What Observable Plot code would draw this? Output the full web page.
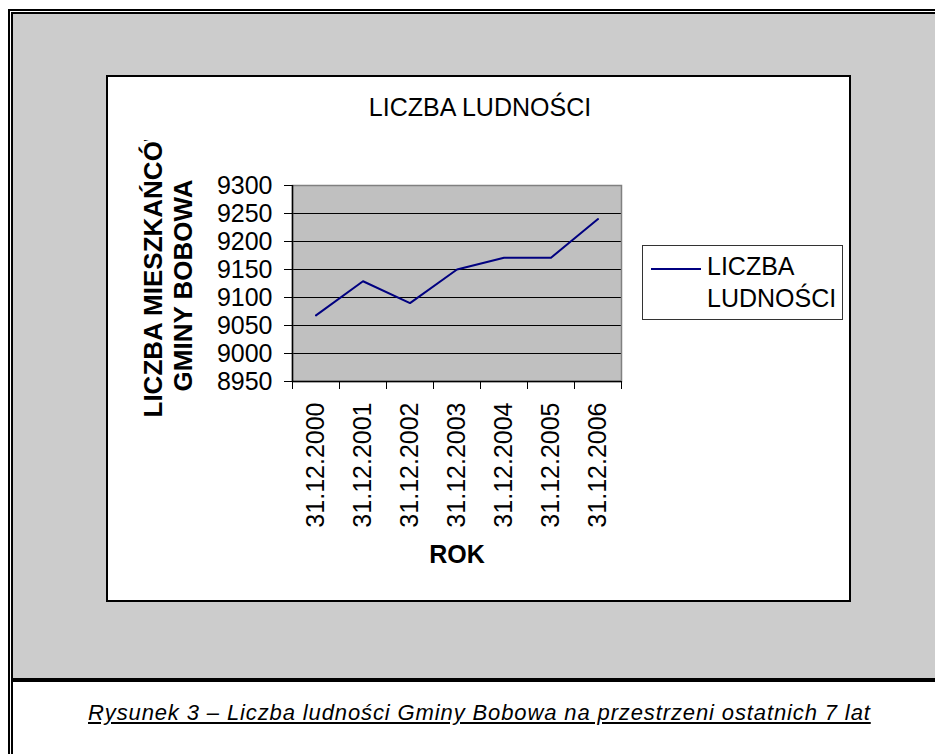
<!DOCTYPE html>
<html><head><meta charset="utf-8">
<script src="https://cdn.jsdelivr.net/npm/d3@7"></script>
<script src="https://cdn.jsdelivr.net/npm/@observablehq/plot@0.6"></script>
<style>
html,body{margin:0;padding:0;background:#fff;overflow:hidden;}
#page{position:relative;width:935px;height:754px;overflow:hidden;font-family:'Liberation Sans',Arial,sans-serif;color:#000;}
#frame{position:absolute;left:8px;top:9px;width:960px;height:780px;border-left:5px double #000;border-top:5px double #000;}
#gray{position:absolute;left:13px;top:14px;width:930px;height:664px;background:#cccccc;}
#rule{position:absolute;left:13px;top:678px;width:930px;height:4px;background:#000;}
#chartbox{position:absolute;left:106px;top:75px;width:745px;height:527px;box-sizing:border-box;border:2px solid #000;background:#fff;}
#chartbox svg{display:block;}
#legend{position:absolute;left:642px;top:245px;width:201px;height:75px;box-sizing:border-box;border:1px solid #333;background:#fff;}
#legend .swatch{position:absolute;left:8px;top:22px;width:50px;height:2px;background:#000080;}
#legend .ltext{position:absolute;left:64px;top:4px;width:135px;font-size:25px;line-height:32px;}
#caption{position:absolute;left:88px;top:700px;white-space:nowrap;font-size:22px;line-height:26px;font-style:italic;text-decoration:underline;letter-spacing:0.88px;}
</style></head><body>
<div id="page">
  <div id="frame"></div>
  <div id="gray"></div>
  <div id="rule"></div>
  <div id="chartbox"></div>
  <div id="legend"><div class="swatch"></div><div class="ltext"></div></div>
  <div id="caption"></div>
</div>
<script>
const categories = ["31.12.2000", "31.12.2001", "31.12.2002", "31.12.2003", "31.12.2004", "31.12.2005", "31.12.2006"];
const population = [9068, 9129, 9090, 9150, 9171, 9171, 9240];
const yTicks = [8950, 9000, 9050, 9100, 9150, 9200, 9250, 9300];
const chartTitle = "LICZBA LUDNOŚCI";
const seriesName = "LICZBA LUDNOŚCI";
const yTitleLines = ["LICZBA MIESZKAŃCÓW", "GMINY BOBOWA"];
const xTitle = "ROK";
const captionText = "Rysunek 3 – Liczba ludności Gminy Bobowa na przestrzeni ostatnich 7 lat";

const data = categories.map((c, i) => ({i, c, v: population[i]}));
const idx = categories.map((_, i) => i);
const edges = [...idx.map(i => i - 0.5), categories.length - 0.5];

const chart = Plot.plot({
  width: 741, height: 523,
  marginLeft: 184, marginRight: 228, marginTop: 108, marginBottom: 219,
  x: {domain: [-0.5, categories.length - 0.5]},
  y: {domain: [yTicks[0], yTicks[yTicks.length - 1]]},
  style: {fontFamily: "'Liberation Sans', Arial, sans-serif", fontSize: "25px", background: "transparent", color: "#000", overflow: "visible"},
  marks: [
    Plot.frame({fill: "#c0c0c0"}),
    Plot.gridY(yTicks, {stroke: "#000", strokeOpacity: 1}),
    Plot.frame({stroke: "#808080", strokeWidth: 1.5}),
    Plot.ruleY([yTicks[0]], {stroke: "#000", strokeWidth: 1.5}),
    Plot.ruleX([edges[0]], {stroke: "#000", strokeWidth: 1.5}),
    Plot.axisY(yTicks, {tickSize: 8, tickPadding: 12, fontSize: 25, label: null, stroke: "#000", tickFormat: d => String(d)}),
    Plot.axisX(edges, {tickSize: 8, fill: "none", tickFormat: () => "", label: null, stroke: "#000"}),
    Plot.axisX(idx, {tickSize: 0, tickPadding: 21, tickRotate: -90, tickFormat: i => categories[i], fontSize: 25, label: null}),
    Plot.line(data, {x: "i", y: "v", stroke: "#000080", strokeWidth: 2}),
    Plot.text([chartTitle], {text: d => d, frameAnchor: "top", dx: 23, dy: -70, lineAnchor: "bottom", fontSize: 25}),
    Plot.text([xTitle], {text: d => d, frameAnchor: "bottom", dy: 181, lineAnchor: "bottom", fontSize: 25, fontWeight: "bold"}),
    Plot.text([yTitleLines[0]], {text: d => d, frameAnchor: "left", dx: -131, dy: 134, rotate: -90, textAnchor: "start", lineAnchor: "bottom", fontSize: 26, fontWeight: "bold"}),
    Plot.text([yTitleLines[1]], {text: d => d, frameAnchor: "left", dx: -100.5, dy: 2, rotate: -90, textAnchor: "middle", lineAnchor: "bottom", fontSize: 26, fontWeight: "bold"})
  ]
});
document.getElementById("chartbox").appendChild(chart);

// clip the first y-title line like the original (cut off at the top)
const svgns = "http://www.w3.org/2000/svg";
const svg = chart.tagName.toLowerCase() === "svg" ? chart : chart.querySelector("svg");
const defs = document.createElementNS(svgns, "defs");
const cp = document.createElementNS(svgns, "clipPath");
cp.setAttribute("id", "ytClip");
cp.setAttribute("clipPathUnits", "userSpaceOnUse");
const cr = document.createElementNS(svgns, "rect");
cr.setAttribute("x", 0); cr.setAttribute("y", 63); cr.setAttribute("width", 741); cr.setAttribute("height", 460);
cp.appendChild(cr); defs.appendChild(cp); svg.insertBefore(defs, svg.firstChild);
const tEl = Array.from(svg.querySelectorAll("text")).find(t => t.textContent === yTitleLines[0]);
if (tEl) {
  let g = tEl.parentNode;
  while (g.parentNode && g.parentNode !== svg) g = g.parentNode;
  const w = document.createElementNS(svgns, "g");
  svg.insertBefore(w, g);
  w.appendChild(g);
  w.setAttribute("clip-path", "url(#ytClip)");
}

document.querySelector("#legend .ltext").textContent = seriesName;
document.getElementById("caption").textContent = captionText;
</script>
</body></html>
